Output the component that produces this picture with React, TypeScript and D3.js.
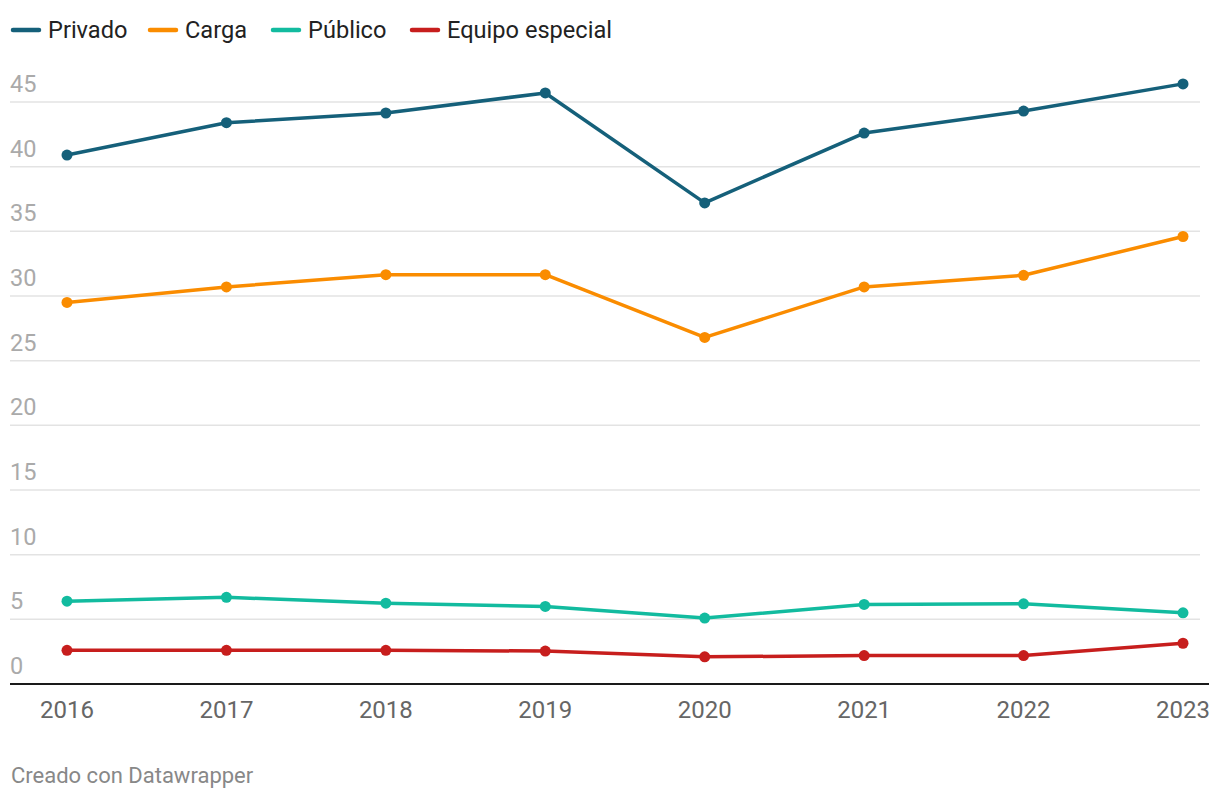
import React from "react";
import * as d3 from "d3";

const years = [2016, 2017, 2018, 2019, 2020, 2021, 2022, 2023];
const privado = [40.9, 43.4, 44.15, 45.7, 37.2, 42.6, 44.3, 46.4];
const carga = [29.5, 30.7, 31.65, 31.65, 26.8, 30.7, 31.6, 34.6];
const publico = [6.4, 6.7, 6.25, 6.0, 5.1, 6.15, 6.2, 5.5];
const equipo = [2.6, 2.6, 2.6, 2.55, 2.1, 2.2, 2.2, 3.15];
const yTicks = [0, 5, 10, 15, 20, 25, 30, 35, 40, 45];

const seriesList = [
  { name: "Privado", values: privado, color: "#15607a" },
  { name: "Carga", values: carga, color: "#fa8c00" },
  { name: "Público", values: publico, color: "#12bb9f" },
  { name: "Equipo especial", values: equipo, color: "#c71e1d" },
];

const W = 1220;
const H = 800;
const FONT = "Roboto, 'Noto Sans', sans-serif";

export default function App() {
  const x = d3.scaleLinear().domain([2016, 2023]).range([67, 1183]);
  const y = d3.scaleLinear().domain([0, 45]).range([684, 102]);
  const line = d3
    .line<number>()
    .x((_, i) => x(years[i]))
    .y((d) => y(d));

  const legendX = [11, 148, 271, 410];

  return (
    <div style={{ position: "absolute", left: 0, top: 0 }}>
      <svg width={W} height={H} style={{ display: "block", background: "#fff" }} fontFamily={FONT}>
        {/* legend */}
        {seriesList.map((s, i) => (
          <g key={s.name} transform={`translate(${legendX[i]},30)`}>
            <line x1={2} x2={28} y1={0} y2={0} stroke={s.color} strokeWidth={4.5} strokeLinecap="round" />
            <text x={37} y={8} fontSize={23.6} fill="#222">
              {s.name}
            </text>
          </g>
        ))}
        {/* grid */}
        {yTicks.map((t) => (
          <g key={t}>
            {t !== 0 && (
              <line x1={10} x2={1200} y1={y(t)} y2={y(t)} stroke="#e3e3e3" strokeWidth={1.5} />
            )}
            <text x={10} y={y(t) - 10} fontSize={23.5} fill="#aaaaaa">
              {t}
            </text>
          </g>
        ))}
        {/* x axis */}
        <line x1={10} x2={1209} y1={y(0)} y2={y(0)} stroke="#1a1a1a" strokeWidth={2} />
        {years.map((yr) => (
          <text key={yr} x={x(yr)} y={718} fontSize={24} fill="#666" textAnchor="middle">
            {yr}
          </text>
        ))}
        {/* series */}
        {seriesList.map((s) => (
          <g key={s.name}>
            <path d={line(s.values) || ""} fill="none" stroke={s.color} strokeWidth={3.5} strokeLinejoin="round" />
            {s.values.map((v, i) => (
              <circle key={i} cx={x(years[i])} cy={y(v)} r={5.5} fill={s.color} />
            ))}
          </g>
        ))}
        <text x={11} y={783} fontSize={22} fill="#888">
          Creado con Datawrapper
        </text>
      </svg>
    </div>
  );
}
